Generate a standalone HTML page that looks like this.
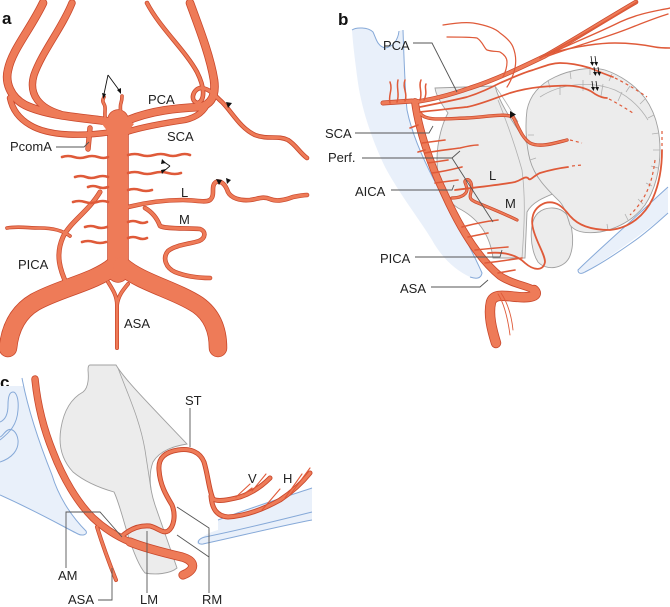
<!DOCTYPE html>
<html><head><meta charset="utf-8"><style>
html,body{margin:0;padding:0;background:#fff}
svg{display:block}
.o{fill:none;stroke:#c8472b;stroke-linecap:round;stroke-linejoin:round}
.i{fill:none;stroke:#ee7b58;stroke-linecap:round;stroke-linejoin:round}
.t{font-family:"Liberation Sans",Arial,sans-serif;font-size:13px;fill:#222}
.L{font-family:"Liberation Sans",Arial,sans-serif;font-size:17px;font-weight:bold;fill:#111}
.ld{fill:none;stroke:#555;stroke-width:0.9}
.gr{fill:#ececec;stroke:#a0a0a0;stroke-width:0.9}
.bl{fill:#e9f0fa;stroke:none}
.bs{fill:none;stroke:#86a9d8;stroke-width:1}
.th{fill:none;stroke:#df5a39;stroke-linecap:round;stroke-linejoin:round}
.ds{fill:none;stroke:#df5a39;stroke-width:1.2;stroke-dasharray:3 3}
.fo{fill:none;stroke:#b0b0b0;stroke-width:0.8}
</style></head><body>
<svg width="670" height="607" viewBox="0 0 670 607" xmlns="http://www.w3.org/2000/svg">
<defs>
<!-- panel a -->
<path id="a1" d="M112,122 C90,118 50,117 25,105 C10,97 5,82 8,70 C12,50 30,30 43,3"/>
<path id="a2" d="M72,3 C62,28 42,52 34,75 C28,95 40,108 60,114"/>
<path id="a3" d="M112,132 C85,136 50,137 30,125 C18,118 12,108 10,98"/>
<path id="a4" d="M124,122 C150,110 180,108 200,107 C212,104 216,95 214,80 C210,55 198,25 190,3"/>
<path id="a5" d="M147,3 C160,28 185,50 197,72 C205,88 205,100 198,103 C190,102 192,90 200,88 C210,88 215,96 222,102 C232,112 240,128 255,135 C268,140 278,135 288,140 C296,145 300,153 307,158"/>
<path id="a6" d="M124,133 C140,127 165,123 185,120 C198,117 205,110 208,102"/>
<path id="a7" d="M118,120 L118,272"/>
<path id="a8" d="M114,266 C95,282 60,288 35,302 C18,312 10,328 8,348"/>
<path id="a9" d="M122,266 C140,282 175,290 198,305 C212,315 218,330 218,348"/>
<path id="a10" d="M67,285 C60,270 55,255 63,237 C70,222 88,212 100,192"/>
<path id="a11" d="M70,236 C62,230 50,228 40,228 C28,228 18,226 7,228"/>
<path id="a12" d="M128,207 C140,204 160,200 183,200 C195,200 205,203 210,200 C216,195 210,186 216,182 C222,180 226,186 228,192 C231,198 240,201 250,200 C258,199 263,196 270,199 C277,202 285,200 293,197 C298,196 303,195 307,195"/>
<path id="a13" d="M145,208 C152,212 157,218 160,226 C165,229 185,228 200,229 C206,231 206,238 199,241 C190,244 175,245 168,251 C162,258 166,268 175,272 C185,276 198,278 210,278"/>
<path id="a14" d="M108,282 C113,290 117,296 117,305 L117,348 M128,284 C123,290 118,296 117,305"/>
<path id="a15" d="M90,128 L88,149"/>
<path id="a16" d="M106,120 C103,114 107,109 104,104 C102,101 103,99 104,97 M117,120 C123,115 119,108 121,103 C122,100 122,98 122,96"/>
<!-- panel b -->
<path id="b1" d="M415,102 C418,125 428,160 445,195 C460,228 478,258 500,276 C512,284 528,286 534,290"/>
<path id="b2" d="M534,290 C540,296 530,298 518,297 C505,296 494,293 491,302 C488,315 492,330 496,343"/>
<path id="b3" d="M412,101 L383,103"/>
<path id="b4" d="M414,102 C430,100 450,95 470,88 C495,80 520,68 545,56 C570,42 605,20 636,2"/>
<path id="b5" d="M420,113 C425,121 440,119 467,118 C485,117 505,113 513,117 C518,125 521,137 530,143 C540,148 555,143 567,140"/>
<path id="b9" d="M452,198 C458,198 466,196 467,190 C467,184 463,182 466,180 C470,178 473,184 471,192 C469,198 470,200 478,203 C490,208 505,214 517,220"/>
<!-- panel c -->
<path id="c1" d="M35,379 C37,400 42,425 53,452 C63,478 77,502 93,518 C106,530 118,537 130,542"/>
<path id="c2" d="M130,542 C145,548 165,553 182,557 C196,561 196,570 183,575"/>
<path id="c3" d="M97,527 C102,543 108,560 116,580"/>
<path id="c4" d="M120,538 C128,530 138,525 150,526 C158,528 163,534 168,531 C174,527 176,515 172,505 C166,495 160,485 159,470 C158,458 165,452 178,450 C190,448 200,452 204,462 C208,475 209,490 213,499 C218,502 228,500 240,497 C252,493 262,486 270,478"/>
<path id="c5" d="M211,496 C212,508 216,516 228,517 C245,516 262,510 280,500 C292,492 302,483 310,473"/>
</defs>

<!-- ================= PANEL A ================= -->
<text class="L" x="2" y="24">a</text>
<g>
<use href="#a1" class="o" stroke-width="8.6"/>
<use href="#a2" class="o" stroke-width="7.4"/>
<use href="#a3" class="o" stroke-width="6.4"/>
<use href="#a4" class="o" stroke-width="8.6"/>
<use href="#a5" class="o" stroke-width="4.6"/>
<use href="#a6" class="o" stroke-width="6.4"/>
<use href="#a7" class="o" stroke-width="21.5"/>
<use href="#a8" class="o" stroke-width="18.5"/>
<use href="#a9" class="o" stroke-width="18.5"/>
<use href="#a10" class="o" stroke-width="5"/>
<use href="#a11" class="o" stroke-width="3.6"/>
<use href="#a12" class="o" stroke-width="4.6"/>
<use href="#a13" class="o" stroke-width="4.6"/>
<use href="#a14" class="o" stroke-width="4"/>
<use href="#a15" class="o" stroke-width="5.4"/>
<use href="#a16" class="o" stroke-width="3.6"/>
<use href="#a1" class="i" stroke-width="7"/>
<use href="#a2" class="i" stroke-width="5.8"/>
<use href="#a3" class="i" stroke-width="4.8"/>
<use href="#a4" class="i" stroke-width="7"/>
<use href="#a5" class="i" stroke-width="3"/>
<use href="#a6" class="i" stroke-width="4.8"/>
<use href="#a7" class="i" stroke-width="20"/>
<use href="#a8" class="i" stroke-width="17"/>
<use href="#a9" class="i" stroke-width="17"/>
<use href="#a10" class="i" stroke-width="3.6"/>
<use href="#a11" class="i" stroke-width="2.2"/>
<use href="#a12" class="i" stroke-width="3.2"/>
<use href="#a13" class="i" stroke-width="3.2"/>
<use href="#a14" class="i" stroke-width="2.6"/>
<use href="#a15" class="i" stroke-width="4"/>
<use href="#a16" class="i" stroke-width="2.2"/>
<path d="M102,124 Q118,112 134,124 L128,132 L108,132 Z" fill="#ee7b58"/>
</g>
<!-- perforators a -->
<g class="th" stroke-width="2.6">
<path d="M62,157 q6,-2 12,0 t12,0 t12,0 t10,0"/>
<path d="M75,177 q6,-2 11,0 t11,0 t11,0"/>
<path d="M88,187 q5,-2 10,0 t10,0"/>
<path d="M73,202 q6,-2 12,0 t12,0 t11,0"/>
<path d="M85,227 q6,-2 11,0 t11,0"/>
<path d="M82,242 q6,-2 12,0 t12,0"/>
<path d="M128,155 q7,-2 13,0 t13,0 t13,0 t12,0 t11,0"/>
<path d="M128,173 q7,-2 13,0 t13,0 t14,0 t13,0"/>
<path d="M128,190 q6,-2 12,0 t12,0"/>
<path d="M128,222 q5,-2 10,0 t9,0"/>
<path d="M128,238 q5,-2 10,0 t9,0"/>
</g>
<!-- arrows a -->
<g stroke="#111" stroke-width="0.9" fill="none">
<path d="M108,75 L104,94 M108,75 L119,90"/>
<path d="M170,166 L164,162 M170,166 L164,171"/>
</g>
<g fill="#111">
<polygon points="102,93 106,94 103.5,99"/>
<polygon points="117,90 121,88 121,94"/>
<polygon points="162,159 166,163 161,164"/>
<polygon points="161,170 166,169 162,174"/>
<polygon points="216,179 222,180 219,185"/>
<polygon points="226,178 231,180 227,184"/>
<polygon points="226,102 232,103 228,108"/>
</g>
<polyline class="ld" points="56,147 84,147 89,142"/>
<text class="t" x="148" y="104">PCA</text>
<text class="t" x="167" y="141">SCA</text>
<text class="t" x="10" y="151">PcomA</text>
<text class="t" x="181" y="197">L</text>
<text class="t" x="179" y="224">M</text>
<text class="t" x="18" y="269">PICA</text>
<text class="t" x="124" y="328">ASA</text>

<!-- ================= PANEL B ================= -->
<text class="L" x="338" y="25">b</text>
<!-- blue -->
<path class="bl" d="M352,30 C356,27 368,27 373,32 C376,38 377,46 385,48 C393,47 398,40 399,31 L403,30 C404,60 405,90 407,110 C412,135 425,165 445,200 C458,225 472,250 482,273 C481,279 476,279 470,277 C455,270 442,258 432,240 C420,220 400,195 385,167 C372,140 362,110 358,83 C355,60 353,45 352,30 Z"/>
<path class="bs" d="M352,30 C356,27 368,27 373,32 C376,38 377,46 385,48 C393,47 398,40 399,31"/>
<path class="bs" d="M403,30 C404,60 405,90 407,110 C412,135 425,165 445,200 C458,225 472,250 482,273 C481,279 476,279 470,277"/>
<path class="bl" d="M578,270 C590,258 610,240 630,222 C645,208 658,196 668,187 L668,213 C650,228 630,242 610,256 C598,264 590,270 582,273 Z"/>
<path class="bs" d="M668,187 C658,196 645,208 630,222 C610,240 590,258 578,270 C578,274 582,274 585,272 C595,267 610,258 630,244 C645,234 658,222 668,213"/>
<!-- gray -->
<path class="gr" d="M435,88 L495,86 C500,105 515,125 525,140 C535,158 545,175 555,193 C545,197 532,202 527,212 L525,258 L493,258 C490,235 478,218 458,208 C443,198 437,180 437,160 C437,140 443,122 448,113 C442,105 436,96 435,88 Z"/>
<path class="fo" d="M498,100 C506,120 515,145 522,170 C526,200 524,230 522,258"/>
<path class="fo" d="M495,86 C505,100 512,112 518,122"/>
<path class="gr" d="M538,213 C528,222 530,250 538,262 C546,271 563,269 569,258 C575,246 573,226 567,215 C560,206 546,206 538,213 Z"/>
<path class="gr" d="M527,110 C530,95 540,84 555,77 C570,70 590,66 605,70 C620,75 635,85 645,98 C655,112 660,130 660,150 C660,170 655,190 645,205 C635,218 620,228 600,232 C585,234 575,232 570,225 C567,215 565,208 560,202 C548,190 535,178 530,160 C526,145 525,125 527,110 Z"/>
<g class="fo">
<path d="M540,97 C560,84 590,80 615,90 C630,97 640,107 648,120"/>
<path d="M560,86 L560,95 M583,80 L583,91 M603,84 L601,96 M622,92 L618,101"/>
<path d="M548,80 L550,88 M570,71 L571,79 M590,67 L590,75 M612,74 L609,81 M630,86 L626,92 M645,99 L640,104 M654,115 L648,118 M659,133 L652,134 M660,150 L653,150 M658,168 L651,166 M652,186 L646,183 M643,204 L638,199 M628,220 L625,214 M608,230 L607,224 M530,160 L536,158 M528,135 L534,135"/>
</g>
<!-- arteries b -->
<use href="#b1" class="o" stroke-width="7.8"/>
<use href="#b2" class="o" stroke-width="10.4"/>
<use href="#b3" class="o" stroke-width="5"/>
<use href="#b4" class="o" stroke-width="4.6"/>
<use href="#b5" class="o" stroke-width="3.4"/>
<use href="#b9" class="o" stroke-width="3.2"/>
<use href="#b1" class="i" stroke-width="6.2"/>
<use href="#b2" class="i" stroke-width="8.8"/>
<use href="#b3" class="i" stroke-width="3.6"/>
<use href="#b4" class="i" stroke-width="3.2"/>
<use href="#b5" class="i" stroke-width="2"/>
<use href="#b9" class="i" stroke-width="1.8"/>
<g class="th">
<path stroke-width="1.6" d="M540,58 C570,42 610,20 637,2"/>
<path stroke-width="1.4" d="M545,56 C575,42 600,32 620,22 C635,15 650,12 660,10 C664,9 667,9 670,8"/>
<path stroke-width="1.3" d="M548,56 C575,46 605,38 630,28 C645,22 655,18 668,14"/>
<path stroke-width="1.5" d="M555,52 C575,47 595,43 615,43 C630,43 645,45 655,47 C660,48 665,48 670,48"/>
<path stroke-width="1.7" d="M420,107 C440,103 455,100 467,97 C480,93 490,88 500,83 C512,78 522,73 533,70 C545,66 552,63 560,63 C570,63 580,65 590,68 C600,72 607,75 613,77"/>
<path stroke-width="1.7" d="M420,112 C440,110 455,108 467,107 C482,104 495,98 510,93 C520,90 530,88 540,87 C552,86 565,85 573,86 C582,87 590,90 595,94 C600,97 603,98 607,98"/>
<path stroke-width="1.8" d="M455,190 C470,188 500,185 515,182 C522,180 524,176 528,178 C530,182 533,176 540,173 C550,170 560,168 568,167"/>
<path stroke-width="1.8" d="M488,253 C500,252 515,253 525,263 C533,270 543,272 545,262 C545,255 538,245 534,232 C530,220 532,208 545,203 C556,200 563,207 570,216 C578,225 590,230 610,230 C630,228 645,215 653,198 C660,182 662,165 662,150"/>
<path stroke-width="1.2" d="M443,25 C455,23 465,22 473,23 C485,25 495,28 500,33 C507,38 511,42 513,47 C517,57 516,67 513,75 C511,80 509,84 507,87"/>
<path stroke-width="1.2" d="M447,37 C460,37 470,37 477,38 C483,42 484,48 487,50 C493,52 498,51 500,52 C505,55 507,58 507,62 C507,68 505,73 503,77"/>
<path stroke-width="1.5" d="M390,103 C388,95 393,90 390,82 M397,102 C400,94 396,88 398,80 M405,101 C408,93 402,88 405,80 M420,100 C423,92 418,87 421,80 M424,100 C428,92 424,88 426,84"/>
<path stroke-width="1.6" d="M422,143 L445,140 M425,153 C435,151 445,150 460,148 C468,146 474,145 478,145 M428,163 L448,160 M432,173 C440,172 450,170 462,167 M435,183 L458,180 M462,227 C470,225 480,222 498,220 M468,237 L488,233 M475,250 C485,249 495,248 508,247 M485,263 C495,262 508,260 522,258 M498,273 L515,270 M418,125 L410,128 M425,150 L418,152"/>
<path stroke-width="0.9" d="M498,294 C505,305 508,320 510,335 M501,293 C509,305 512,320 513,330"/>
</g>
<g class="ds">
<path d="M570,140 L582,143"/>
<path d="M615,78 C625,83 637,90 647,97"/>
<path d="M609,99 C617,103 625,108 633,113"/>
<path d="M572,166 L582,165"/>
<path d="M662,146 L662,128"/>
<path d="M655,160 C652,185 645,200 630,215"/>
</g>
<!-- arrows b -->
<g stroke="#111" stroke-width="0.8">
<path d="M591,56 L592,63 M595,56 L596,63 M594,67 L595,73 M598,67 L599,73 M592,81 L593,88 M596,81 L597,88"/>
</g>
<g fill="#111">
<polygon points="590,62 594,62 592.5,66"/><polygon points="594,62 598,62 596.5,66"/>
<polygon points="593,72 597,72 595.5,76"/><polygon points="597,72 601,72 599.5,76"/>
<polygon points="591,87 595,87 593.5,91"/><polygon points="595,87 599,87 597.5,91"/>
<polygon points="510,111 516,114.5 510,118"/>
</g>
<!-- leaders b -->
<polyline class="ld" points="413,43 432,43 457,92"/>
<polyline class="ld" points="355,133 429,133 433,126"/>
<polyline class="ld" points="362,158 452,158 460,151"/>
<polyline class="ld" points="452,158 493,222"/>
<polyline class="ld" points="391,190 452,190 454,185"/>
<polyline class="ld" points="415,257 500,257 502,250"/>
<polyline class="ld" points="431,287 480,287 488,280"/>
<text class="t" x="383" y="50">PCA</text>
<text class="t" x="325" y="138">SCA</text>
<text class="t" x="328" y="162">Perf.</text>
<text class="t" x="355" y="196">AICA</text>
<text class="t" x="489" y="180">L</text>
<text class="t" x="505" y="208">M</text>
<text class="t" x="380" y="263">PICA</text>
<text class="t" x="400" y="293">ASA</text>

<!-- ================= PANEL C ================= -->
<text class="L" x="0" y="388">c</text>
<!-- blue -->
<path class="bl" d="M0,386 L24,386 C28,410 40,445 52,475 C58,495 70,515 86,531 C88,535 82,536 78,534 C62,526 40,513 0,495 Z"/>
<path class="bs" d="M22,378 C28,410 40,445 52,475 C58,495 70,515 86,531 C88,535 82,536 78,534 C62,526 40,513 0,495"/>
<path class="bs" d="M0,440 C10,432 17,425 18,410 C19,398 16,392 13,392 C9,392 8,398 8,405 C8,415 5,420 0,422"/>
<path class="bs" d="M0,462 C12,458 19,450 18,440 C17,432 12,428 8,430 C4,432 3,436 0,437"/>
<path class="bl" d="M218,520 C250,508 285,497 312,488 L312,520 C280,526 240,535 205,544 C198,546 195,543 198,540 C203,536 210,532 218,530 Z"/>
<path class="bs" d="M218,520 C250,508 285,497 312,488"/>
<path class="bs" d="M312,512 C280,520 240,530 205,537 C197,539 196,545 203,544 C240,536 280,526 312,520"/>
<!-- gray -->
<path class="gr" d="M90,365 L116,365 C125,380 150,405 187,444 C175,446 160,450 153,462 C148,475 150,490 155,505 C162,525 170,548 177,568 C170,574 155,575 145,573 C138,565 132,548 127,532 C122,515 118,500 114,492 C100,488 85,482 73,472 C62,460 58,445 61,428 C64,410 72,398 83,392 C88,388 89,380 88,370 C88,366 89,365 90,365 Z"/>
<path class="fo" d="M118,368 C128,395 140,420 145,450 C148,470 150,482 151,490" style="stroke:#a0a0a0"/>
<!-- arteries c -->
<use href="#c1" class="o" stroke-width="7.4"/>
<use href="#c2" class="o" stroke-width="9.2"/>
<use href="#c3" class="o" stroke-width="4"/>
<use href="#c4" class="o" stroke-width="5"/>
<use href="#c5" class="o" stroke-width="5"/>
<use href="#c1" class="i" stroke-width="5.8"/>
<use href="#c2" class="i" stroke-width="7.6"/>
<use href="#c3" class="i" stroke-width="2.6"/>
<use href="#c4" class="i" stroke-width="3.2"/>
<use href="#c5" class="i" stroke-width="3.2"/>
<g class="th" stroke-width="1.1">
<path d="M236,497 L250,484 M244,494 L252,488 M252,491 L266,474 M262,510 L280,489 M285,498 L302,474 M290,495 L310,468"/>
</g>
<!-- leaders c -->
<polyline class="ld" points="190,408 190,447"/>
<polyline class="ld" points="66,568 66,512 100,512 122,537"/>
<polyline class="ld" points="98,600 112,600 112,568"/>
<polyline class="ld" points="147,593 147,531"/>
<polyline class="ld" points="177,507 209,528 209,593"/>
<polyline class="ld" points="177,535 209,557"/>
<text class="t" x="185" y="405">ST</text>
<text class="t" x="248" y="483">V</text>
<text class="t" x="283" y="483">H</text>
<text class="t" x="58" y="580">AM</text>
<text class="t" x="68" y="604">ASA</text>
<text class="t" x="140" y="604">LM</text>
<text class="t" x="202" y="604">RM</text>
</svg>
</body></html>
